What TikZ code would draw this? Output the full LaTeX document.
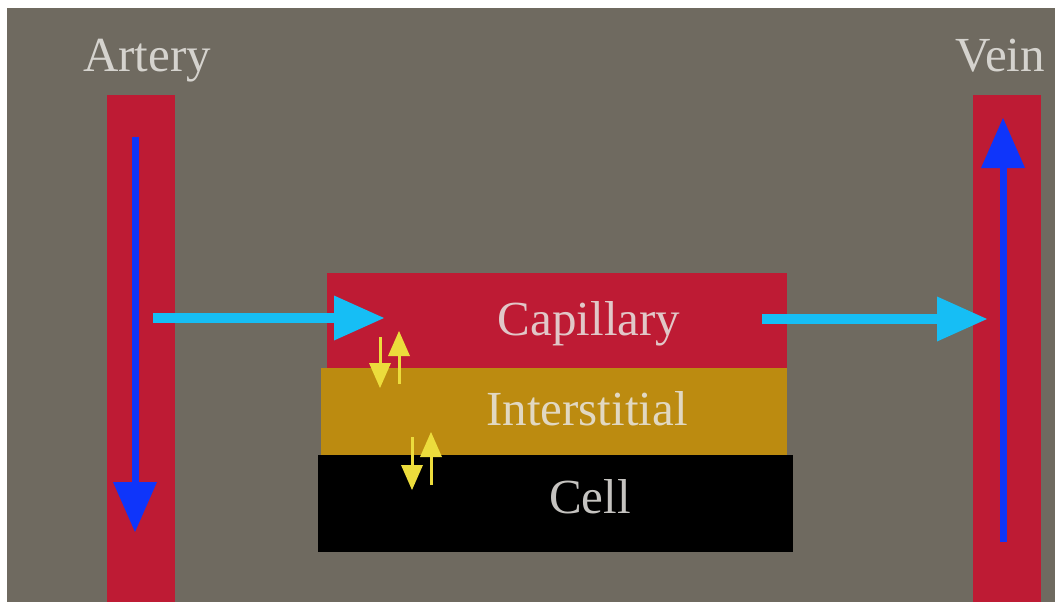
\documentclass[tikz,border=0pt]{standalone}
\usepackage{fontspec}
\setmainfont{Liberation Serif}
\usetikzlibrary{arrows.meta}
\definecolor{bggray}{RGB}{111,106,96}
\definecolor{vessel}{RGB}{190,27,52}
\definecolor{gold}{RGB}{188,139,16}
\definecolor{cyanarr}{RGB}{22,190,245}
\definecolor{bluearr}{RGB}{15,53,250}
\definecolor{yelarr}{RGB}{236,220,60}
\definecolor{labeltext}{RGB}{232,230,226}
\tikzset{
  block/.style={fill=#1, draw=none, inner sep=0pt, anchor=north west},
  lbl/.style={anchor=base, text=labeltext, text opacity=0.85, inner sep=0pt,
    font=\fontsize{49}{50}\selectfont},
  flowarr/.style={draw=cyanarr, line width=10pt,
    -{Triangle[width=45pt,length=50pt,line width=0pt]}},
  bloodarr/.style={draw=bluearr, line width=7pt,
    -{Triangle[width=44pt,length=50pt,line width=0pt]}},
  exarr/.style={draw=yelarr, line width=3pt,
    -{Triangle[width=22pt,length=25pt,line width=0pt]}}
}
\begin{document}
\begin{tikzpicture}[x=1pt,y=-1pt]
\useasboundingbox (0,0) rectangle (1055,602);
\fill[white] (0,0) rectangle (1055,602);
\fill[bggray] (7,8) rectangle (1055,602);
% vessels
\node[block=vessel, minimum width=68pt, minimum height=507pt] (artery) at (107,95) {};
\node[block=vessel, minimum width=68pt, minimum height=507pt] (vein) at (973,95) {};
\node[block=vessel, minimum width=460pt, minimum height=96pt] (capillary) at (327,273) {};
\node[block=gold, minimum width=466pt, minimum height=87pt] (interstitial) at (321,368) {};
\node[block=black, minimum width=475pt, minimum height=97pt] (cell) at (318,455) {};
% labels
\node[lbl] (lartery) at (147,72) {Artery};
\node[lbl] (lvein) at (1000,72) {Vein};
\node[lbl] (lcap) at (589,335) {Capillary};
\node[lbl] (lint) at (587,425) {Interstitial};
\node[lbl] (lcell) at (590,513) {Cell};
% blood flow arrows
\coordinate (aTop) at (135,137);
\coordinate (aBot) at (135,532);
\draw[bloodarr] (aTop) -- (aBot);
\coordinate (vBot) at (1003,542);
\coordinate (vTop) at (1003,118);
\draw[bloodarr] (vBot) -- (vTop);
% cyan arrows
\coordinate (c1s) at (153,318);
\coordinate (c1e) at (384,318);
\draw[flowarr] (c1s) -- (c1e);
\coordinate (c2s) at (762,319);
\coordinate (c2e) at (987,319);
\draw[flowarr] (c2s) -- (c2e);
% exchange arrows
\coordinate (y1s) at (380,337);
\coordinate (y1e) at (380,388);
\draw[exarr] (y1s) -- (y1e);
\coordinate (y2s) at (399,384);
\coordinate (y2e) at (399,331);
\draw[exarr] (y2s) -- (y2e);
\coordinate (y3s) at (412,437);
\coordinate (y3e) at (412,490);
\draw[exarr] (y3s) -- (y3e);
\coordinate (y4s) at (431,485);
\coordinate (y4e) at (431,432);
\draw[exarr] (y4s) -- (y4e);
\end{tikzpicture}
\end{document}
